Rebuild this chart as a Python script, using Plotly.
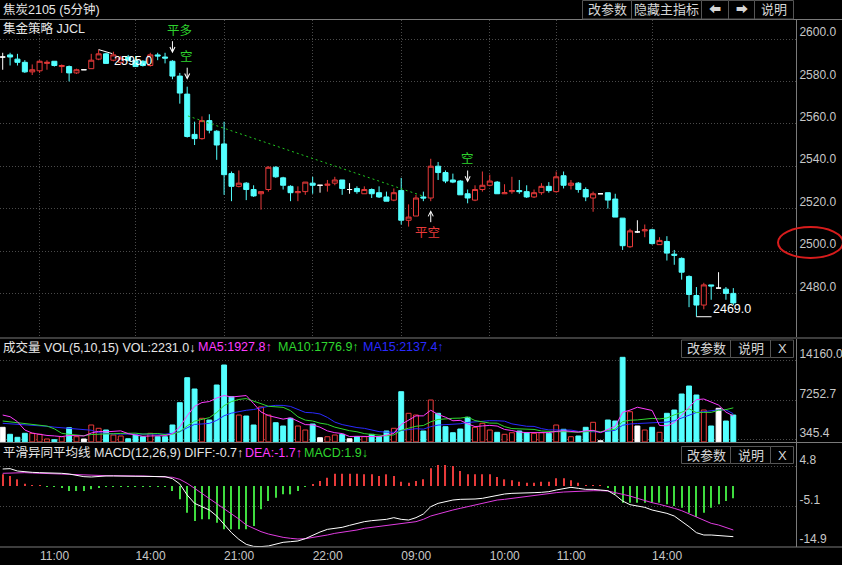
import pandas as pd
import plotly.graph_objects as go

# ---------------- data ----------------
time_labels = ["11:00", "14:00", "21:00", "22:00", "09:00", "10:00", "11:00", "14:00"]
time_label_bars = [5, 18, 30, 42, 54, 66, 75, 88]

opens = [2591.5, 2592.5, 2590.5, 2589, 2584.5, 2585, 2588.5, 2589.5, 2587, 2587,
         2584, 2585.5, 2586, 2590.5, 2593, 2590, 2589, 2591.5, 2590, 2589.5,
         2587.5, 2592.5, 2591.5, 2589.5, 2582.5, 2574, 2555, 2553, 2561.5, 2556.5,
         2550.5, 2536.5, 2530.5, 2532, 2529, 2527, 2529, 2539.5, 2534.5, 2530.5,
         2527.5, 2528, 2532, 2531, 2531, 2532, 2533.5, 2529, 2529.5, 2527,
         2529, 2527.5, 2525.5, 2524, 2528.5, 2514.5, 2516.5, 2525.5, 2525, 2540,
         2537, 2533.5, 2533, 2527, 2524, 2529, 2531, 2532.5, 2527, 2528,
         2528.5, 2528, 2525.5, 2527.5, 2530.5, 2528, 2535.5, 2531, 2532, 2529,
         2525, 2527, 2527.5, 2524.5, 2515.5, 2502, 2509, 2509.5, 2510, 2503,
         2504.5, 2498.5, 2496.5, 2488, 2479, 2474.5, 2484, 2482.5, 2482, 2480]
highs = [2593.5, 2593.5, 2593, 2590, 2588, 2590, 2590, 2589.5, 2588, 2587.5,
         2586, 2585.5, 2593, 2595, 2593.5, 2594, 2592, 2592.5, 2592, 2590,
         2593.5, 2593.5, 2593.5, 2590, 2584, 2577.5, 2561, 2563.5, 2564.5, 2557,
         2561, 2537.5, 2538, 2532.5, 2531, 2528, 2540, 2540, 2535, 2531,
         2530.5, 2532.5, 2535, 2531, 2533.5, 2535, 2533.5, 2532, 2530.5, 2530.5,
         2529.5, 2530.5, 2528, 2529.5, 2534.5, 2522, 2526.5, 2528, 2543.5, 2542,
         2538, 2536.5, 2533.5, 2529, 2531, 2537.5, 2536, 2533, 2531.5, 2535,
         2533.5, 2531, 2529, 2532, 2532.5, 2537.5, 2537.5, 2533.5, 2532.5, 2530,
         2528, 2527, 2527.5, 2527, 2515.5, 2510.5, 2514.5, 2512.5, 2510.5, 2506.5,
         2507, 2500.5, 2497, 2488.5, 2483, 2485, 2484, 2490, 2483, 2482.5]
lows = [2585.5, 2587.5, 2587.5, 2584, 2583, 2584, 2585.5, 2587, 2584, 2580,
        2583.5, 2585.5, 2586, 2590, 2588.5, 2589.5, 2588, 2589.5, 2587, 2587,
        2587, 2590, 2588.5, 2581, 2569.5, 2553.5, 2550, 2552.5, 2555.5, 2543,
        2526.5, 2523.5, 2530, 2524, 2525.5, 2519.5, 2528, 2534.5, 2529, 2523.5,
        2523.5, 2526.5, 2527, 2527.5, 2528, 2531, 2526.5, 2527, 2527, 2527,
        2525, 2525, 2523.5, 2523.5, 2512.5, 2511.5, 2516.5, 2523.5, 2523.5, 2533.5,
        2532, 2532, 2526.5, 2522.5, 2523.5, 2528, 2530.5, 2527, 2527, 2527,
        2527, 2525, 2525, 2526.5, 2527.5, 2527.5, 2529.5, 2529, 2527.5, 2523.5,
        2518.5, 2527, 2520, 2516, 2500.5, 2501.5, 2508.5, 2506.5, 2503, 2503,
        2495.5, 2493.5, 2486.5, 2473.5, 2469, 2472.5, 2477, 2482.5, 2477, 2474.5]
closes = [2591.5, 2591.5, 2589, 2584.5, 2585.5, 2589.5, 2589, 2587.5, 2587.5, 2584,
          2585.5, 2585.5, 2590, 2593, 2588.5, 2592.5, 2591, 2590, 2587, 2587.5,
          2592.5, 2592, 2591, 2582.5, 2574.5, 2554, 2553, 2561.5, 2557, 2550,
          2536, 2530.5, 2532, 2529, 2526, 2528, 2539.5, 2535, 2531, 2527.5,
          2528, 2532.5, 2531, 2531, 2531.5, 2533.5, 2529.5, 2529, 2528, 2529,
          2527, 2525.5, 2523.5, 2527.5, 2514.5, 2516, 2525, 2525, 2540, 2537,
          2533, 2532.5, 2526.5, 2525, 2529, 2531, 2533, 2527, 2527.5, 2528.5,
          2528, 2525.5, 2527.5, 2530.5, 2528.5, 2535, 2531, 2532, 2529, 2525.5,
          2527, 2527, 2524, 2516, 2502.5, 2509.5, 2509, 2510, 2503.5, 2505,
          2499, 2498, 2490, 2479.5, 2474.5, 2484, 2483.5, 2482.5, 2480, 2475.5]

volumes = [2543, 1322, 799, 1496, 1496, 1322, 502, 380, 903, 2473,
           903, 500, 2944, 2368, 2072, 1200, 1031, 550, 1200, 900,
           1496, 900, 900, 2944, 6833, 11193, 9222, 4112, 3817, 9920,
           13408, 7879, 4687, 4513, 2944, 6100, 4687, 3345, 2770, 4112,
           2770, 2072, 3118, 730, 900, 1200, 1322, 550, 900, 900,
           1322, 900, 1900, 2368, 8752, 4985, 4687, 1900, 7304, 4985,
           2650, 1600, 2246, 4287, 2543, 3240, 2072, 1670, 1322, 1600,
           1900, 1600, 1496, 1600, 1496, 2944, 2195, 900, 1031, 2543,
           3415, 200, 3817, 3641, 14750, 5263, 2770, 2072, 2543, 1670,
           4985, 5560, 8350, 9745, 8176, 5560, 2770, 5856, 3641, 4687]
# bars before the visible window, estimated from where the MA lines start
vol_prior = [2400, 2500, 2450, 2350, 2490, 2600, 2500, 2700, 2575, 2600,
             2787, 5169, 8736, 4200]

macd_diff = [4.21, 4.29, 3.71, 3.47, 3.38, 3.30, 3.30, 3.22, 3.14, 2.97,
             2.64, 2.31, 2.23, 2.39, 2.48, 2.48, 2.48, 2.48, 2.48, 2.48,
             2.48, 2.48, 2.31, 1.82, 0.50, -2.23, -4.29, -5.12, -5.94, -7.43,
             -9.49, -11.55, -13.2, -14.44, -14.95, -15.0, -14.85, -14.36, -13.94, -13.78,
             -13.61, -13.04, -12.13, -11.39, -10.73, -10.48, -10.23, -9.74, -9.24, -8.83,
             -8.58, -8.42, -8.25, -7.84, -8.25, -8.42, -7.84, -6.93, -5.12, -4.29,
             -3.88, -3.47, -3.30, -3.30, -3.22, -3.05, -2.64, -2.23, -1.98, -1.82,
             -1.82, -1.82, -1.65, -1.57, -1.40, -0.99, -0.58, -0.33, -0.58, -0.83,
             -0.83, -0.99, -1.16, -2.23, -3.71, -4.62, -4.95, -5.28, -5.94, -6.35,
             -6.77, -7.43, -8.66, -10.07, -11.55, -12.13, -12.13, -12.29, -12.38, -12.54]
macd_dea = [3.14, 3.22, 3.30, 3.30, 3.22, 3.14, 3.14, 3.05, 2.97, 2.89,
            2.81, 2.72, 2.64, 2.56, 2.56, 2.56, 2.48, 2.48, 2.48, 2.48,
            2.39, 2.31, 2.23, 2.15, 1.65, 0.66, -0.58, -1.82, -3.05, -4.29,
            -5.53, -6.77, -8.17, -9.65, -10.48, -11.30, -11.88, -12.38, -12.71, -12.95,
            -13.12, -13.04, -12.79, -12.54, -12.13, -11.72, -11.47, -11.14, -10.89, -10.48,
            -10.23, -9.90, -9.65, -9.41, -9.24, -8.99, -8.83, -8.25, -7.43, -6.93,
            -6.35, -5.94, -5.53, -5.12, -4.70, -4.29, -3.88, -3.47, -3.30, -3.05,
            -2.81, -2.64, -2.39, -2.23, -1.98, -1.65, -1.49, -1.40, -1.24, -1.16,
            -1.16, -1.16, -1.24, -1.65, -1.98, -2.48, -3.05, -3.63, -4.13, -4.54,
            -4.95, -5.53, -6.11, -6.93, -7.76, -8.58, -9.24, -9.65, -10.23, -10.89]
macd_hist = [2.89, 2.48, 1.65, 0.58, 0.12, 0.12, -0.1, -0.1, -0.41, -1.24,
             -1.24, -1.24, -0.83, -0.25, -0.15, -0.15, -0.15, -0.15, -0.15, -0.15,
             -0.15, -0.15, -0.15, -1.24, -3.3, -6.6, -8.66, -8.25, -8.25, -9.08,
             -10.73, -10.73, -10.73, -10.73, -9.9, -5.78, -3.71, -2.89, -2.06, -2.06,
             -1.24, -0.15, 0.41, 1.24, 2.06, 3.05, 3.05, 3.05, 3.05, 2.89,
             2.89, 2.48, 2.89, 2.48, 1.07, 0.83, 1.24, 1.65, 4.37, 5.2,
             5.2, 4.95, 3.71, 2.89, 2.89, 2.89, 2.89, 2.23, 1.65, 1.4,
             1.07, 0.83, 0.83, 1.07, 1.07, 1.9, 1.9, 1.4, 0.83, 0.17,
             0.12, 0.08, -0.41, -2.06, -4.13, -4.13, -4.13, -4.13, -4.13, -4.13,
             -4.54, -4.95, -5.36, -6.6, -7.67, -6.6, -5.36, -4.54, -3.71, -3.05]

price_ticks = [2480, 2500, 2520, 2540, 2560, 2580, 2600]
vol_ticks = [345.4, 7252.7, 14160.0]
macd_ticks = [4.8, -5.1, -14.9]

trend_x = [25.1, 56.95]
trend_y = [2563.7, 2525.9]
high_mark_bar, high_mark_price = 13, 2595.0
low_mark_bar, low_mark_price = 94, 2469.0
signal_bars = [23, 25, 58, 63]
signal_texts = ["平多", "空", "平空", "空"]
signal_dirs = ["down", "down", "up", "down"]

# ---------------- styles / geometry ----------------
RED = "#e83a3a"
CYAN = "#54ffff"
WHITE = "#ffffff"
GRID = "#4a4a4a"
AXLINE = "#7a7a7a"
LABEL = "#c8c8c8"
MAG = "#ff3cff"
GRN = "#2fd62f"
BLU = "#2a2aff"
FONT = "Liberation Sans, Noto Sans CJK SC, sans-serif"

W, H = 842, 565
PW, PH = 796, 547          # plot area in pixels
X0, STEP = 2.7, 7.38       # first bar centre / bar spacing (px)


def pxx(px):
    return px / PW


def pxy(py):
    return (PH - py) / PH


def dom(top, bottom):
    return [pxy(bottom), pxy(top)]


def bar_at(px):
    return (px - X0) / STEP


def price_at(py):
    return 2600.0 - (py - 39.0) / 2.12


def vol_at(py):
    return 14160.0 - (py - 360.7) * 174.4


def macd_at(py):
    return (486.0 - py) / 4.04


x_range = [bar_at(0), bar_at(PW)]
n = len(closes)
idx = list(range(n))

fig = go.Figure()

# ---------------- candles ----------------
groups = {"up": [], "down": [], "doji": []}
for i in idx:
    if closes[i] > opens[i]:
        groups["up"].append(i)
    elif closes[i] < opens[i]:
        groups["down"].append(i)
    else:
        groups["doji"].append(i)

cstyle = {"up": (RED, "black"), "down": (CYAN, CYAN), "doji": (WHITE, WHITE)}
for k, ids in groups.items():
    lc, fc = cstyle[k]
    fig.add_trace(go.Candlestick(
        x=ids, open=[opens[i] for i in ids], high=[highs[i] for i in ids],
        low=[lows[i] for i in ids], close=[closes[i] for i in ids],
        increasing=dict(line=dict(color=lc, width=1), fillcolor=fc),
        decreasing=dict(line=dict(color=lc, width=1), fillcolor=fc),
        whiskerwidth=0, hoverinfo="skip", xaxis="x", yaxis="y"))

fig.add_trace(go.Scatter(x=trend_x, y=trend_y, mode="lines",
                         line=dict(color="#22c822", width=1, dash="2px,3px"),
                         hoverinfo="skip", xaxis="x", yaxis="y"))

# ---------------- volume ----------------
vcol = {"up": (RED, "black"), "down": (CYAN, CYAN), "doji": (WHITE, WHITE)}
for k, ids in groups.items():
    lc, fc = vcol[k]
    fig.add_trace(go.Bar(x=ids, y=[volumes[i] for i in ids], width=0.66,
                         marker=dict(color=fc, line=dict(color=lc, width=1)),
                         hoverinfo="skip", xaxis="x2", yaxis="y2"))

vol_all = pd.Series(vol_prior + volumes, dtype=float)
for win, col in [(15, BLU), (10, GRN), (5, MAG)]:
    ma = vol_all.rolling(win).mean().iloc[-n:].tolist()
    fig.add_trace(go.Scatter(x=idx, y=ma, mode="lines", line=dict(color=col, width=1),
                             hoverinfo="skip", xaxis="x2", yaxis="y2"))

# ---------------- MACD ----------------
fig.add_trace(go.Bar(x=idx, y=macd_hist, width=0.15,
                     marker=dict(color=[RED if v > 0 else "#3fdc3f" for v in macd_hist],
                                 line=dict(width=0)),
                     hoverinfo="skip", xaxis="x3", yaxis="y3"))
fig.add_trace(go.Scatter(x=idx, y=macd_dea, mode="lines", line=dict(color="#e03ce0", width=1),
                         hoverinfo="skip", xaxis="x3", yaxis="y3"))
fig.add_trace(go.Scatter(x=idx, y=macd_diff, mode="lines", line=dict(color=WHITE, width=1),
                         hoverinfo="skip", xaxis="x3", yaxis="y3"))

# ---------------- axes ----------------
tickfont = dict(family=FONT, size=12, color=LABEL)
common_x = dict(range=x_range, showline=False, zeroline=False, ticks="", fixedrange=True)
common_y = dict(side="right", showline=True, linecolor=AXLINE, linewidth=1, zeroline=False,
                ticks="", showgrid=True, gridcolor=GRID, griddash="1px,2px", gridwidth=1,
                tickfont=tickfont, ticklabelshift=-7, ticklabelstandoff=0, automargin=False,
                fixedrange=True)

fig.update_layout(
    width=W, height=H, margin=dict(l=0, r=W - PW, t=0, b=H - PH),
    paper_bgcolor="black", plot_bgcolor="black", showlegend=False,
    barmode="overlay", boxmode="overlay", boxgap=0.32, boxgroupgap=0,
    xaxis=dict(common_x, anchor="y", domain=[0, 1], showticklabels=False,
               showgrid=True, gridcolor=GRID, griddash="1px,2px",
               tickvals=time_label_bars, rangeslider=dict(visible=False)),
    xaxis2=dict(common_x, anchor="y2", domain=[0, 1], showticklabels=False, showgrid=False),
    xaxis3=dict(common_x, anchor="y3", domain=[0, 1], showgrid=False,
                tickvals=time_label_bars, ticktext=time_labels, tickfont=tickfont,
                ticklabelshift=15),
    yaxis=dict(common_y, domain=dom(20, 337), range=[price_at(337), price_at(20)],
               tickvals=price_ticks, ticktext=[f"{v:.1f}" for v in price_ticks]),
    yaxis2=dict(common_y, domain=dom(339, 442), range=[vol_at(442), vol_at(339)],
                tickvals=vol_ticks, ticktext=[f"{v:.1f}" for v in vol_ticks]),
    yaxis3=dict(common_y, domain=dom(443, 547), range=[macd_at(547), macd_at(443)],
                tickvals=macd_ticks, ticktext=[f"{v:.1f}" for v in macd_ticks]),
)

# ---------------- shapes ----------------
shapes = []
for yy in [19.5, 338, 442.5, 547]:
    shapes.append(dict(type="line", xref="paper", yref="paper", x0=0, x1=pxx(W),
                       y0=pxy(yy), y1=pxy(yy), line=dict(color=AXLINE, width=1)))
# high / low marker lines
shapes.append(dict(type="line", xref="x", yref="y", x0=high_mark_bar, y0=high_mark_price,
                   x1=high_mark_bar + 1.85, y1=high_mark_price - 1.9,
                   line=dict(color=WHITE, width=1)))
shapes.append(dict(type="line", xref="x", yref="y", x0=low_mark_bar, y0=low_mark_price,
                   x1=low_mark_bar + 2.05, y1=low_mark_price,
                   line=dict(color=WHITE, width=1)))
# red ellipse around 2500.0
shapes.append(dict(type="circle", xref="paper", yref="paper", x0=pxx(778), x1=pxx(843),
                   y0=pxy(258), y1=pxy(227), line=dict(color="#d81c1c", width=2)))

buttons = [
    (582.5, 0.5, 631.5, 19, "改参数"), (631.5, 0.5, 701.5, 19, "隐藏主指标"),
    (701.5, 0.5, 728.5, 19, "⬅"), (728.5, 0.5, 754.5, 19, "➡"), (754.5, 0.5, 793.5, 19, "说明"),
    (681.5, 340, 730.5, 357.5, "改参数"), (730.5, 340, 770.5, 357.5, "说明"),
    (770.5, 340, 793.5, 357.5, "X"),
    (681.5, 446.5, 730.5, 463.5, "改参数"), (730.5, 446.5, 770.5, 463.5, "说明"),
    (770.5, 446.5, 793.5, 463.5, "X"),
]
ann = []
for x0, y0, x1, y1, t in buttons:
    shapes.append(dict(type="rect", xref="paper", yref="paper", x0=pxx(x0), x1=pxx(x1),
                       y0=pxy(y1), y1=pxy(y0), line=dict(color="#555555", width=1),
                       fillcolor="black"))
    ann.append(dict(xref="paper", yref="paper", x=pxx((x0 + x1) / 2), y=pxy((y0 + y1) / 2),
                    text=t, showarrow=False, xanchor="center", yanchor="middle",
                    font=dict(family=FONT, size=13 if t not in ("⬅", "➡") else 12,
                              color="#d6d6d6")))
fig.update_layout(shapes=shapes)


def label(px, py, text, color, size=12.5, anchor="left"):
    ann.append(dict(xref="paper", yref="paper", x=pxx(px), y=pxy(py), text=text,
                    showarrow=False, xanchor=anchor, yanchor="middle",
                    font=dict(family=FONT, size=size, color=color)))


label(1, 10, "焦炭2105 (5分钟)", "#e6e6e6", 12.5)
label(1, 29, "集金策略 JJCL", "#e6e6e6", 12.5)

label(1, 347, "成交量 VOL(5,10,15) VOL:2231.0↓", "#e6e6e6", 12.5)
label(196, 347, "MA5:1927.8↑", MAG, 12.5)
label(276, 347, "MA10:1776.9↑", GRN, 12.5)
label(361, 347, "MA15:2137.4↑", BLU, 12.5)

label(1, 453, "平滑异同平均线 MACD(12,26,9) DIFF:-0.7↑", "#e6e6e6", 12.5)
label(243, 453, "DEA:-1.7↑", MAG, 12.5)
label(302, 453, "MACD:1.9↓", GRN, 12.5)

label(112, 61, f"{high_mark_price:.1f}", WHITE, 12.5)
label(711, 308.5, f"{low_mark_price:.1f}", WHITE, 12.5)

# signal arrows and texts
text_pos = [(179.5, 31.5), (186.7, 57.3), (427.7, 233), (467.5, 159)]
for b, t, d, (tx, ty) in zip(signal_bars, signal_texts, signal_dirs, text_pos):
    if d == "down":
        ann.append(dict(xref="x", yref="y", x=b, y=highs[b], ax=0, ay=-21, standoff=7,
                        showarrow=True, text=" ", arrowcolor=WHITE, arrowwidth=1,
                        arrowhead=5, arrowsize=1, font=dict(size=1)))
    else:
        ann.append(dict(xref="x", yref="y", x=b, y=lows[b], ax=0, ay=23, standoff=9,
                        showarrow=True, text=" ", arrowcolor=WHITE, arrowwidth=1,
                        arrowhead=5, arrowsize=1, font=dict(size=1)))
    label(tx, ty, t, "#2ed22e" if d == "down" else RED, 12.5, anchor="center")

fig.update_layout(annotations=ann)

fig.write_html("out.html", config={"displayModeBar": False})
